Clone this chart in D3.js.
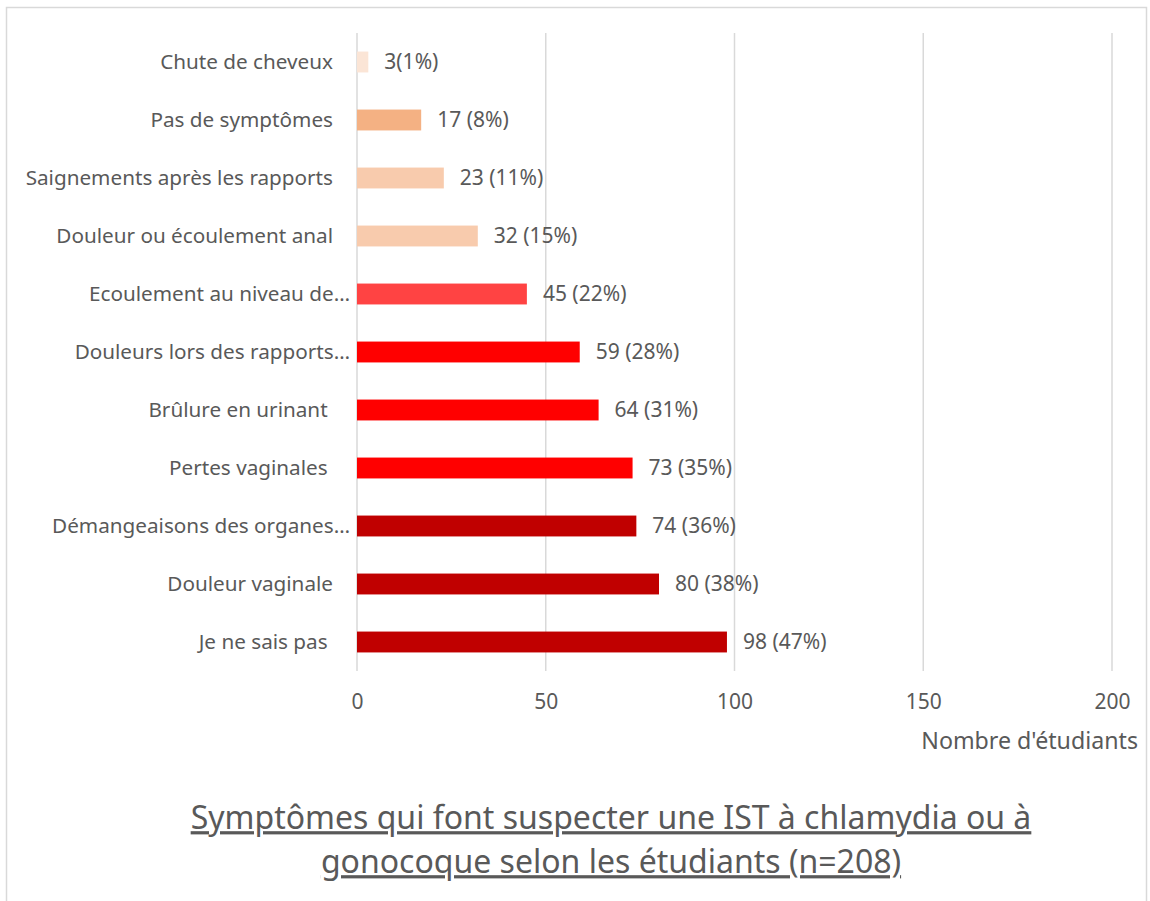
<!DOCTYPE html>
<html>
<head>
<meta charset="utf-8">
<script src="https://cdn.jsdelivr.net/npm/d3@7"></script>
<style>
  body { margin: 0; background: #fff; }
  svg text { font-family: "Noto Sans", "Open Sans", sans-serif; fill: #595959; }
</style>
</head>
<body>
<svg id="chart" width="1150" height="901"></svg>
<script>
// categories top to bottom
const categories = ['Chute de cheveux', 'Pas de symptômes', 'Saignements après les rapports',
  'Douleur ou écoulement anal', 'Ecoulement au niveau de…', 'Douleurs lors des rapports…',
  'Brûlure en urinant ', 'Pertes vaginales ', 'Démangeaisons des organes…',
  'Douleur vaginale', 'Je ne sais pas ']
const counts = [3, 17, 23, 32, 45, 59, 64, 73, 74, 80, 98]
const valueLabels = ['3(1%)', '17 (8%)', '23 (11%)', '32 (15%)', '45 (22%)', '59 (28%)',
  '64 (31%)', '73 (35%)', '74 (36%)', '80 (38%)', '98 (47%)']
const barColors = ['#FBE5D6', '#F4B183', '#F8CBAD', '#F8CBAD', '#FF4343', '#FF0000',
  '#FF0000', '#FF0000', '#C00000', '#C00000', '#C00000']
const xTicks = [0, 50, 100, 150, 200]

const svg = d3.select('#chart')

// chart frame
svg.append('rect').attr('x', 6.5).attr('y', 7.5).attr('width', 1140).attr('height', 910)
  .attr('fill', 'none').attr('stroke', '#d9d9d9').attr('stroke-width', 1.5)

const x = d3.scaleLinear().domain([0, 200]).range([357, 1112])
const y = d3.scaleBand().domain(categories).range([33, 671]).paddingInner(0.64).paddingOuter(0.32)

// gridlines
svg.append('g')
  .selectAll('line').data(xTicks).enter().append('line')
  .attr('x1', d => x(d)).attr('x2', d => x(d))
  .attr('y1', 33).attr('y2', 671)
  .attr('stroke', '#d9d9d9').attr('stroke-width', 1.5)

// x axis tick labels
const xAxis = svg.append('g').attr('transform', 'translate(0,671)')
  .call(d3.axisBottom(x).tickValues(xTicks).tickSize(0).tickPadding(23))
xAxis.select('.domain').remove()
xAxis.selectAll('text').style('font-size', '21px').attr('fill', '#595959')

// bars
svg.append('g')
  .selectAll('rect').data(categories).enter().append('rect')
  .attr('x', x(0))
  .attr('y', d => y(d))
  .attr('width', (d, i) => x(counts[i]) - x(0))
  .attr('height', y.bandwidth())
  .attr('fill', (d, i) => barColors[i])

// category labels
svg.append('g')
  .selectAll('text').data(categories).enter().append('text')
  .attr('x', d => d.endsWith('…') ? 350 : 333)
  .attr('y', d => y(d) + y.bandwidth() / 2)
  .attr('dy', '0.35em')
  .attr('text-anchor', 'end')
  .style('white-space', 'pre')
  .style('font-size', '20.7px')
  .text(d => d)

// value labels
svg.append('g')
  .selectAll('text').data(categories).enter().append('text')
  .attr('x', (d, i) => x(counts[i]) + 16)
  .attr('y', d => y(d) + y.bandwidth() / 2)
  .attr('dy', '0.35em')
  .style('font-size', '21px')
  .text((d, i) => valueLabels[i])

// axis title
svg.append('text')
  .attr('x', 1138).attr('y', 741).attr('dy', '0.35em')
  .attr('text-anchor', 'end')
  .style('font-size', '23.2px')
  .text("Nombre d'étudiants")

// chart title
const titleLines = ['Symptômes qui font suspecter une IST à chlamydia ou à',
  'gonocoque selon les étudiants (n=208)']
svg.append('g')
  .selectAll('text').data(titleLines).enter().append('text')
  .attr('x', 611)
  .attr('y', (d, i) => 818 + i * 44)
  .attr('dy', '0.35em')
  .attr('text-anchor', 'middle')
  .style('font-size', '32px')
  .style('text-decoration', 'underline')
  .text(d => d)
</script>
</body>
</html>
